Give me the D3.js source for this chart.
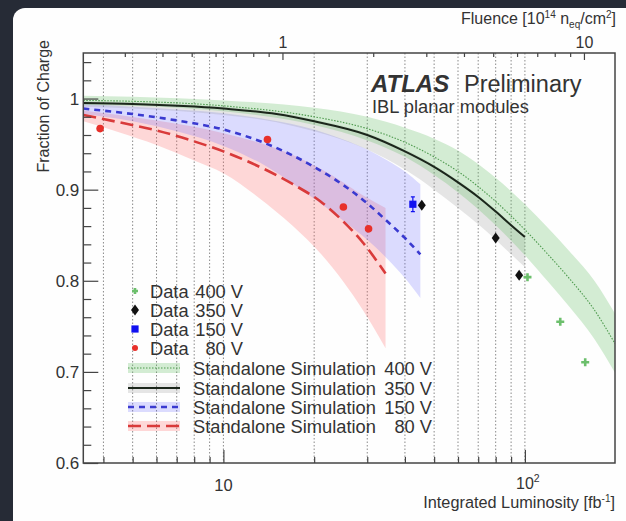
<!DOCTYPE html>
<html><head><meta charset="utf-8">
<script src="https://cdn.jsdelivr.net/npm/d3@7"></script>
<style>
body{margin:0;background:#262b36;overflow:hidden}
svg{display:block}
text{font-family:"Liberation Sans",Arial,sans-serif;fill:#333}
</style>
</head><body>
<svg id="c" width="626" height="521"></svg>
<script>
// ---------- data ----------
const lumiDomain = [3.43, 199];
const fluencePerFb = 0.0637;
const yDomain = [0.6, 1.05];
const yMajorTicks = [0.6, 0.7, 0.8, 0.9, 1.0];
const yMinorTicks = [0.62,0.64,0.66,0.68,0.72,0.74,0.76,0.78,0.82,0.84,0.86,0.88,0.92,0.94,0.96,0.98,1.02,1.04];
const lumiMajorTicks = [10, 100];
const lumiMinorTicks = [4,5,6,7,8,9,20,30,40,50,60,70,80,90];
const gridLumi = [4,5,6,7,8,9,10,20,30,40,50,60,70,80,90,100];
const fluenceMajorTicks = [1, 10];
const fluenceMinorTicks = [0.3,0.4,0.5,0.6,0.7,0.8,0.9,2,3,4,5,6,7,8,9];

// Standalone simulation 400 V
const sim400L  = [3.43, 5, 10, 20, 30, 40, 50, 60, 80, 100, 120, 140, 170, 199];
const sim400Y  = [0.998, 0.997, 0.992, 0.980, 0.967, 0.952, 0.936, 0.920, 0.887, 0.856, 0.828, 0.803, 0.768, 0.731];
const sim400Hi = [1.003, 1.002, 0.998, 0.990, 0.980, 0.968, 0.956, 0.943, 0.913, 0.884, 0.857, 0.833, 0.800, 0.764];
const sim400Lo = [0.993, 0.992, 0.986, 0.971, 0.954, 0.936, 0.916, 0.897, 0.861, 0.828, 0.798, 0.772, 0.736, 0.699];
// Standalone simulation 350 V
const sim350L  = [3.43, 5, 10, 15, 20, 30, 40, 50, 60, 70, 80, 90, 100];
const sim350Y  = [0.995, 0.994, 0.989, 0.983, 0.975, 0.960, 0.942, 0.925, 0.908, 0.892, 0.876, 0.861, 0.848];
const sim350Hi = [0.997, 0.996, 0.991, 0.985, 0.977, 0.962, 0.944, 0.927, 0.910, 0.894, 0.878, 0.863, 0.850];
const sim350Lo = [0.991, 0.989, 0.982, 0.974, 0.964, 0.944, 0.922, 0.900, 0.880, 0.862, 0.845, 0.829, 0.815];
// Standalone simulation 150 V
const sim150L  = [3.43, 5, 7, 10, 14, 20, 25, 30, 35, 40, 45];
const sim150Y  = [0.989, 0.983, 0.976, 0.966, 0.950, 0.925, 0.905, 0.885, 0.865, 0.847, 0.829];
const sim150Hi = [0.994, 0.991, 0.988, 0.984, 0.977, 0.966, 0.955, 0.944, 0.932, 0.920, 0.906];
const sim150Lo = [0.983, 0.975, 0.964, 0.948, 0.925, 0.890, 0.866, 0.845, 0.824, 0.803, 0.781];
// Standalone simulation 80 V
const sim80L  = [3.43, 4.5, 6, 8, 10, 13, 17, 21, 25, 29, 34.5];
const sim80Y  = [0.982, 0.974, 0.965, 0.953, 0.942, 0.926, 0.906, 0.887, 0.865, 0.842, 0.808];
const sim80Hi = [0.987, 0.982, 0.976, 0.969, 0.962, 0.952, 0.938, 0.923, 0.908, 0.894, 0.880];
const sim80Lo = [0.975, 0.963, 0.949, 0.932, 0.918, 0.892, 0.860, 0.830, 0.799, 0.768, 0.726];

// Data points
const data400L = [102, 131, 158.5];
const data400Y = [0.804, 0.755, 0.7105];
const data350L = [45.5, 80, 95.7];
const data350Y = [0.883, 0.847, 0.806];
const data150L = [42.5];
const data150Y = [0.884];
const data150Err = [0.008];
const data80L = [3.9, 14.0, 25.0, 30.3];
const data80Y = [0.967, 0.955, 0.881, 0.857];

// ---------- drawing ----------
const svg = d3.select("#c");
const W = 626, H = 521;
const PL = 83.3, PR = 615, PT = 53, PB = 463;

svg.append("rect").attr("width", W).attr("height", H).attr("fill", "#262b36");
svg.append("rect").attr("x", 13).attr("y", 8).attr("width", 700).attr("height", 600)
  .attr("rx", 12).attr("fill", "#fefefe");

const x = d3.scaleLog().domain(lumiDomain).range([PL, PR]);
const y = d3.scaleLinear().domain(yDomain).range([PB, PT]);
const xTop = d3.scaleLog().domain(lumiDomain.map(d => d * fluencePerFb)).range([PL, PR]);

svg.append("clipPath").attr("id", "plot").append("rect")
  .attr("x", PL).attr("y", PT).attr("width", PR - PL).attr("height", PB - PT);

// grid
svg.append("g").selectAll("line").data(gridLumi).join("line")
  .attr("x1", d => x(d)).attr("x2", d => x(d)).attr("y1", PT).attr("y2", PB)
  .attr("stroke", "#8a8a8a").attr("stroke-width", 1).attr("stroke-dasharray", "1.5,2");

const zip = (L, a, b, c) => L.map((l, i) => ({L: l, y: a[i], hi: b ? b[i] : null, lo: c ? c[i] : null}));
const area = d3.area().x(d => x(d.L)).y0(d => y(d.lo)).y1(d => y(d.hi)).curve(d3.curveMonotoneX);
const line = d3.line().x(d => x(d.L)).y(d => y(d.y)).curve(d3.curveMonotoneX);

const g = svg.append("g").attr("clip-path", "url(#plot)");

const series = [
  {d: zip(sim80L, sim80Y, sim80Hi, sim80Lo), fill: "rgb(255,90,90)", fo: 0.24, stroke: "#d93a3a", sw: 2.6, dash: "13,6"},
  {d: zip(sim150L, sim150Y, sim150Hi, sim150Lo), fill: "rgb(110,110,255)", fo: 0.24, stroke: "#3a3ad0", sw: 2.6, dash: "6,5"},
  {d: zip(sim350L, sim350Y, sim350Hi, sim350Lo), fill: "rgb(140,140,140)", fo: 0.22, stroke: "#1b261b", sw: 2, dash: null},
  {d: zip(sim400L, sim400Y, sim400Hi, sim400Lo), fill: "rgb(100,190,100)", fo: 0.28, stroke: "#4e9a4e", sw: 1.1, dash: "1.5,1.5"}
];
series.forEach(s => {
  g.append("path").attr("d", area(s.d)).attr("fill", s.fill).attr("fill-opacity", s.fo);
});
[series[3], series[2], series[1], series[0]].forEach(s => {
  g.append("path").attr("d", line(s.d)).attr("fill", "none").attr("stroke", s.stroke)
    .attr("stroke-width", s.sw).attr("stroke-dasharray", s.dash);
});

// markers
function cross(sel, cx, cy, s) {
  sel.append("path").attr("d", `M${cx - s},${cy}H${cx + s}M${cx},${cy - s}V${cy + s}`)
    .attr("stroke", "#6cbf6c").attr("stroke-width", 2.6).attr("fill", "none");
}
function diamond(sel, cx, cy) {
  sel.append("path").attr("d", `M${cx},${cy - 5.5}L${cx + 4},${cy}L${cx},${cy + 5.5}L${cx - 4},${cy}Z`).attr("fill", "#111");
}
function square(sel, cx, cy) {
  sel.append("rect").attr("x", cx - 3.6).attr("y", cy - 3.6).attr("width", 7.2).attr("height", 7.2).attr("fill", "#1010f0");
}
function circle(sel, cx, cy) {
  sel.append("circle").attr("cx", cx).attr("cy", cy).attr("r", 3.8).attr("fill", "#e8302a");
}
const m = svg.append("g");
data150L.forEach((l, i) => {
  const cx = x(l), e = data150Err[i];
  m.append("path").attr("d", `M${cx},${y(data150Y[i] - e)}V${y(data150Y[i] + e)}M${cx - 2},${y(data150Y[i] - e)}H${cx + 2}M${cx - 2},${y(data150Y[i] + e)}H${cx + 2}`)
    .attr("stroke", "#1010f0").attr("stroke-width", 1.2).attr("fill", "none");
  square(m, cx, y(data150Y[i]));
});
data350L.forEach((l, i) => diamond(m, x(l), y(data350Y[i])));
data400L.forEach((l, i) => cross(m, x(l), y(data400Y[i]), 4));
data80L.forEach((l, i) => circle(m, x(l), y(data80Y[i])));

// frame
svg.append("rect").attr("x", PL).attr("y", PT).attr("width", PR - PL).attr("height", PB - PT)
  .attr("fill", "none").attr("stroke", "#444").attr("stroke-width", 1.5);

// axes
function styleAxis(a) { a.select(".domain").remove(); a.selectAll("line").attr("stroke", "#444").attr("stroke-width", 1.2); }
const axL = svg.append("g").attr("transform", `translate(${PL},0)`)
  .call(d3.axisLeft(y).tickValues(yMajorTicks).tickSizeInner(-15).tickSizeOuter(0).tickPadding(4)
    .tickFormat(d => d === 1 ? "1" : d3.format(".1f")(d)));
styleAxis(axL);
axL.selectAll("text").attr("font-size", 17).attr("fill", "#333").attr("font-family", "Liberation Sans, Arial, sans-serif");
const axLm = svg.append("g").attr("transform", `translate(${PL},0)`)
  .call(d3.axisLeft(y).tickValues(yMinorTicks).tickSizeInner(-8).tickSizeOuter(0).tickFormat(""));
styleAxis(axLm);

const axB = svg.append("g").attr("transform", `translate(0,${PB})`)
  .call(d3.axisBottom(x).tickValues(lumiMajorTicks).tickSizeInner(-13).tickSizeOuter(0).tickFormat(""));
styleAxis(axB);
const axBm = svg.append("g").attr("transform", `translate(0,${PB})`)
  .call(d3.axisBottom(x).tickValues(lumiMinorTicks).tickSizeInner(-6).tickSizeOuter(0).tickFormat(""));
styleAxis(axBm);

// bottom labels
svg.append("text").attr("x", x(10)).attr("y", 491).attr("text-anchor", "middle").attr("font-size", 16.5).text("10");
const t100 = svg.append("text").attr("x", x(100) + 3).attr("y", 489).attr("text-anchor", "middle").attr("font-size", 16);
t100.append("tspan").text("10");
t100.append("tspan").attr("dy", -7).attr("font-size", 10.5).text("2");

const axT = svg.append("g").attr("transform", `translate(0,${PT})`)
  .call(d3.axisTop(xTop).tickValues(fluenceMajorTicks).tickSizeInner(-7).tickSizeOuter(0).tickPadding(5)
    .tickFormat(d => String(d)));
styleAxis(axT);
axT.selectAll("text").attr("font-size", 16).attr("fill", "#333").attr("font-family", "Liberation Sans, Arial, sans-serif");
const axTm = svg.append("g").attr("transform", `translate(0,${PT})`)
  .call(d3.axisTop(xTop).tickValues(fluenceMinorTicks).tickSizeInner(-4).tickSizeOuter(0).tickFormat(""));
styleAxis(axTm);

// titles
const xt = svg.append("text").attr("x", 615).attr("y", 508).attr("text-anchor", "end").attr("font-size", 16.3);
xt.append("tspan").text("Integrated Luminosity [fb");
xt.append("tspan").attr("dy", -6).attr("font-size", 10).text("-1");
xt.append("tspan").attr("dy", 6).text("]");

const ft = svg.append("text").attr("x", 616).attr("y", 24).attr("text-anchor", "end").attr("font-size", 16);
ft.append("tspan").text("Fluence [10");
ft.append("tspan").attr("dy", -6).attr("font-size", 10).text("14");
ft.append("tspan").attr("dy", 6).text(" n");
ft.append("tspan").attr("dy", 4).attr("font-size", 10).text("eq");
ft.append("tspan").attr("dy", -4).text("/cm");
ft.append("tspan").attr("dy", -6).attr("font-size", 10).text("2");
ft.append("tspan").attr("dy", 6).text("]");

svg.append("text").attr("transform", "translate(49,40) rotate(-90)").attr("text-anchor", "end")
  .attr("font-size", 16).text("Fraction of Charge");

svg.append("text").attr("x", 371).attr("y", 92).attr("font-size", 24).attr("font-weight", "bold")
  .attr("font-style", "italic").attr("fill", "#111").text("ATLAS");
svg.append("text").attr("x", 464).attr("y", 92).attr("font-size", 23.5).attr("fill", "#222").text("Preliminary");
svg.append("text").attr("x", 372).attr("y", 113).attr("font-size", 18.3).attr("fill", "#333").text("IBL planar modules");

// legend
const legData = [
  {label: "Data", val: "400 V", yy: 291, mk: (s, cx, cy) => cross(s, cx, cy, 3)},
  {label: "Data", val: "350 V", yy: 310, mk: diamond},
  {label: "Data", val: "150 V", yy: 329, mk: square},
  {label: "Data", val: "80 V", yy: 348, mk: (s, cx, cy) => s.append("circle").attr("cx", cx).attr("cy", cy).attr("r", 3).attr("fill", "#e8302a")}
];
const leg = svg.append("g");
legData.forEach(e => {
  e.mk(leg, 135, e.yy);
  leg.append("text").attr("x", 150).attr("y", e.yy).attr("dy", "0.36em").attr("font-size", 18.3).text(e.label);
  leg.append("text").attr("x", 243).attr("y", e.yy).attr("dy", "0.36em").attr("text-anchor", "end").attr("font-size", 18.3).text(e.val);
});
const legSim = [
  {val: "400 V", yy: 368, s: series[3]},
  {val: "350 V", yy: 388, s: series[2]},
  {val: "150 V", yy: 407, s: series[1]},
  {val: "80 V", yy: 426, s: series[0]}
];
legSim.forEach(e => {
  leg.append("rect").attr("x", 128).attr("y", e.yy - 5).attr("width", 52).attr("height", 10)
    .attr("fill", e.s.fill).attr("fill-opacity", e.s.fo);
  leg.append("line").attr("x1", 128).attr("x2", 180).attr("y1", e.yy).attr("y2", e.yy)
    .attr("stroke", e.s.stroke).attr("stroke-width", e.s.sw).attr("stroke-dasharray", e.s.dash);
  leg.append("text").attr("x", 193).attr("y", e.yy).attr("dy", "0.36em").attr("font-size", 18.3).text("Standalone Simulation");
  leg.append("text").attr("x", 432).attr("y", e.yy).attr("dy", "0.36em").attr("text-anchor", "end").attr("font-size", 18.3).text(e.val);
});
</script>
</body></html>
